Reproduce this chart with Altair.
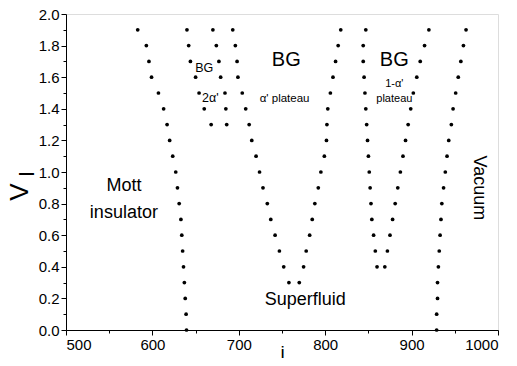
import altair as alt
import pandas as pd

# ---- data ----
V_FULL = [1.9, 1.8, 1.7, 1.6, 1.5, 1.4, 1.3, 1.2, 1.1, 1.0,
          0.9, 0.8, 0.7, 0.6, 0.5, 0.4, 0.3, 0.2, 0.1, 0.0]

mott_i = [583, 593, 596, 599, 607, 613, 617, 620, 623.5, 627,
          629, 631, 633, 634, 635, 636, 637, 638, 639, 639.5]

lobe2_V = [1.9, 1.8, 1.7, 1.6, 1.5, 1.4, 1.3]
lobe2_left_i = [640, 642, 644, 650, 654, 660, 668]
lobe2_right_i = [670, 674, 677, 679, 684, 685, 686]

bigV_V = [1.9, 1.8, 1.7, 1.6, 1.5, 1.4, 1.3, 1.2, 1.1, 1.0,
          0.9, 0.8, 0.7, 0.6, 0.5, 0.4, 0.3]
bigV_left_i = [693, 696, 698, 699, 704, 708, 712, 715, 720, 724,
               728, 733, 737, 742, 747, 752, 758]
bigV_right_i = [818, 815, 812, 809, 806, 803, 802, 801.5, 799, 795,
                792, 788, 785, 782, 778, 775, 770]

rightV_V = [1.9, 1.8, 1.7, 1.6, 1.5, 1.4, 1.3, 1.2, 1.1, 1.0,
            0.9, 0.8, 0.7, 0.6, 0.5, 0.4]
rightV_left_i = [847, 844, 844, 845, 846, 847, 848, 849, 850, 851,
                 852, 853, 854, 856, 858, 860]
rightV_right_i = [920, 915, 910, 906, 902, 899, 896, 893, 890, 887,
                  884, 881, 878, 875, 872, 869]

vacuum_i = [963, 960, 957, 954, 951, 948, 946, 943, 941, 939,
            937, 935, 934, 933, 932, 931, 930, 930, 929, 929]

label_text = ["Mott", "insulator", "Superfluid", "BG", "α' plateau",
              "BG", "2α'", "BG", "1-α'", "plateau", "Vacuum"]
label_i = [567, 567, 777, 755, 753, 660, 667, 880, 880, 880, 978]
label_V = [0.91, 0.74, 0.19, 1.71, 1.46, 1.66, 1.47, 1.71, 1.56, 1.46, 0.90]
label_size = [18, 18, 18, 20, 11.5, 12.5, 12.5, 20, 11, 11, 18]
label_angle = [0, 0, 0, 0, 0, 0, 0, 0, 0, 0, 90]

# ---- build tables ----
rows = []
for xs, vs in [(mott_i, V_FULL), (lobe2_left_i, lobe2_V), (lobe2_right_i, lobe2_V),
               (bigV_left_i, bigV_V), (bigV_right_i, bigV_V),
               (rightV_left_i, rightV_V), (rightV_right_i, rightV_V),
               (vacuum_i, V_FULL)]:
    for x, v in zip(xs, vs):
        rows.append({"i": x, "V": v})
pts = pd.DataFrame(rows)

labels = pd.DataFrame({"text": label_text, "i": label_i, "V": label_V,
                       "size": label_size, "angle": label_angle})

FONT = "Liberation Sans"

x_scale = alt.Scale(domain=[500, 1000], nice=False, zero=False)
y_scale = alt.Scale(domain=[0, 2], nice=False, zero=False)

x_axis = alt.Axis(
    values=[500, 550, 600, 650, 700, 750, 800, 850, 900, 950, 1000],
    labelExpr="datum.value % 100 == 0 ? datum.value : ''",
    tickSize={"condition": {"test": "datum.value % 100 == 0", "value": 5}, "value": 3},
    labelOverlap=False, labelFontSize=15, labelFont=FONT, labelColor="black",
    title="i", titleFontSize=19, titleFont=FONT, titleFontWeight="normal",
    titlePadding=-9, titleColor="black", grid=False,
    domainColor="black", tickColor="black", labelPadding=2)

y_axis = alt.Axis(
    values=[round(k * 0.1, 1) for k in range(21)],
    labelExpr="round(datum.value * 10) % 2 == 0 ? format(datum.value, '.1f') : ''",
    tickSize={"condition": {"test": "round(datum.value * 10) % 2 == 0", "value": 5}, "value": 3},
    labelOverlap=False, labelFontSize=15, labelFont=FONT, labelColor="black",
    title=None, grid=False, domainColor="black", tickColor="black", labelPadding=2)

dots = alt.Chart(pts).mark_circle(size=14, color="black", opacity=1).encode(
    x=alt.X("i:Q", scale=x_scale, axis=x_axis),
    y=alt.Y("V:Q", scale=y_scale, axis=y_axis),
)

texts = alt.Chart(labels).mark_text(font=FONT, color="black", align="center",
                                    baseline="middle").encode(
    x=alt.X("i:Q", scale=x_scale, axis=x_axis),
    y=alt.Y("V:Q", scale=y_scale, axis=y_axis),
    text="text:N",
    size=alt.Size("size:Q", scale=None),
    angle=alt.Angle("angle:Q", scale=None),
)

ytitle_df = pd.DataFrame({"t": ["V", "I"], "px": [-46, -39], "py": [178, 160], "fs": [26, 22]})
ytitle = alt.Chart(ytitle_df).mark_text(font=FONT, color="black", angle=270,
                                        align="center", baseline="middle").encode(
    x=alt.X("px:Q", scale=None),
    y=alt.Y("py:Q", scale=None),
    text="t:N",
    size=alt.Size("fs:Q", scale=None),
)

chart = alt.layer(dots, texts, ytitle).properties(
    width=432, height=316,
    autosize=alt.AutoSizeParams(type="none"),
    padding={"left": 58, "top": 6, "right": 11, "bottom": 28},
).configure_view(stroke="black", strokeWidth=1).configure_axis(
    labelOverlap=False
).configure(background="white")

chart.save("out.html", embed_options={"renderer": "svg", "actions": False})
